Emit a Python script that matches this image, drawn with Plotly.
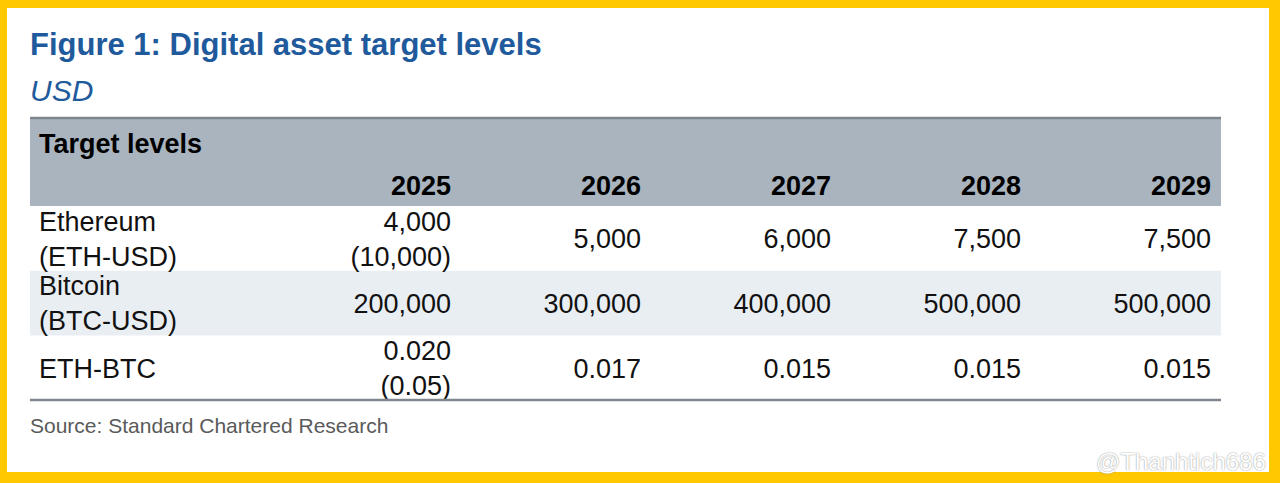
import plotly.graph_objects as go

# table content
years = ["2025", "2026", "2027", "2028", "2029"]
assets = ["Ethereum<br>(ETH-USD)", "Bitcoin<br>(BTC-USD)", "ETH-BTC"]
eth_usd = [4000, 5000, 6000, 7500, 7500]
eth_usd_alt = [10000, None, None, None, None]
btc_usd = [200000, 300000, 400000, 500000, 500000]
btc_usd_alt = [None, None, None, None, None]
eth_btc = [0.020, 0.017, 0.015, 0.015, 0.015]
eth_btc_alt = [0.05, None, None, None, None]

# layout constants (pixels inside the white card)
W, H = 1262, 464
TABLE_X0 = 23
LABEL_W = 241
COL_W = 190
PAD_R = 10
PAD_L = 9
TABLE_TOP = 110
HEADER_H = 88
ROW_H = 64.7
TEXT_DY = 3
NOTE_X = TABLE_X0 - 2

BLUE = "#1f5a9c"
YELLOW = "#ffc800"
HEADER_BG = "#a9b4be"
STRIPE_BG = "#e9eef3"
RULE = "#7f868e"
FONT = "Liberation Sans, Arial, sans-serif"
BODY_SIZE = 27


def fmt(v, alt, kind):
    if kind == "usd":
        s = f"{v:,.0f}"
        if alt is not None:
            s += f"<br>({alt:,.0f})"
    else:
        s = f"{v:.3f}"
        if alt is not None:
            s += f"<br>({alt:.2f})"
    return s


rows = [
    [fmt(v, a, "usd") for v, a in zip(eth_usd, eth_usd_alt)],
    [fmt(v, a, "usd") for v, a in zip(btc_usd, btc_usd_alt)],
    [fmt(v, a, "ratio") for v, a in zip(eth_btc, eth_btc_alt)],
]

col_right = [TABLE_X0 + LABEL_W + COL_W * (i + 1) - PAD_R for i in range(len(years))]
table_x1 = TABLE_X0 + LABEL_W + COL_W * len(years)
body_top = TABLE_TOP + HEADER_H
row_center = [body_top + ROW_H * (i + 0.5) for i in range(len(assets))]
table_bottom = body_top + ROW_H * len(assets)

fig = go.Figure()

# header years
fig.add_trace(go.Scatter(
    x=col_right, y=[TABLE_TOP + 67 + TEXT_DY] * len(years),
    text=[f"<b>{y}</b>" for y in years],
    mode="text", textposition="middle left",
    textfont=dict(family=FONT, size=BODY_SIZE, color="#000000"),
    hoverinfo="skip",
))

# header title
fig.add_trace(go.Scatter(
    x=[TABLE_X0 + PAD_L], y=[TABLE_TOP + 25 + TEXT_DY],
    text=["<b>Target levels</b>"],
    mode="text", textposition="middle right",
    textfont=dict(family=FONT, size=BODY_SIZE, color="#000000"),
    hoverinfo="skip",
))

# row labels
fig.add_trace(go.Scatter(
    x=[TABLE_X0 + PAD_L] * len(assets),
    y=[c + TEXT_DY for c in row_center],
    text=assets,
    mode="text", textposition="middle right",
    textfont=dict(family=FONT, size=BODY_SIZE, color="#111111"),
    hoverinfo="skip",
))

# values
for r, vals in enumerate(rows):
    fig.add_trace(go.Scatter(
        x=col_right, y=[row_center[r] + TEXT_DY] * len(vals),
        text=vals,
        mode="text", textposition="middle left",
        textfont=dict(family=FONT, size=BODY_SIZE, color="#111111"),
        hoverinfo="skip",
    ))

shapes = [
    dict(type="rect", xref="x", yref="y", x0=TABLE_X0, x1=table_x1,
         y0=TABLE_TOP, y1=body_top, fillcolor=HEADER_BG, line_width=0, layer="below"),
    dict(type="rect", xref="x", yref="y", x0=TABLE_X0, x1=table_x1,
         y0=body_top + ROW_H, y1=body_top + 2 * ROW_H, fillcolor=STRIPE_BG,
         line_width=0, layer="below"),
    dict(type="line", xref="x", yref="y", x0=TABLE_X0, x1=table_x1,
         y0=TABLE_TOP, y1=TABLE_TOP, line=dict(color=RULE, width=2.5)),
    dict(type="line", xref="x", yref="y", x0=TABLE_X0, x1=table_x1,
         y0=table_bottom, y1=table_bottom, line=dict(color=RULE, width=2.5)),
]

annotations = [
    dict(x=NOTE_X, y=36, xref="x", yref="y", xanchor="left", yanchor="middle",
         text="<b>Figure 1: Digital asset target levels</b>", showarrow=False,
         font=dict(family=FONT, size=31, color=BLUE)),
    dict(x=NOTE_X, y=82, xref="x", yref="y", xanchor="left", yanchor="middle",
         text="<i>USD</i>", showarrow=False,
         font=dict(family=FONT, size=30, color=BLUE)),
    dict(x=NOTE_X, y=417, xref="x", yref="y", xanchor="left", yanchor="middle",
         text="Source: Standard Chartered Research", showarrow=False,
         font=dict(family=FONT, size=21, color="#5a5a5a")),
    dict(x=W - 1, y=453, xref="x", yref="y", xanchor="right", yanchor="middle",
         text="@Thanhtich686", showarrow=False,
         font=dict(family=FONT, size=24, color="#ffffff",
                   shadow="0px 0px 1.5px #7a7a7a")),
]

fig.update_layout(
    width=1280, height=483,
    margin=dict(l=7, r=11, t=8, b=11),
    paper_bgcolor=YELLOW,
    plot_bgcolor="#ffffff",
    showlegend=False,
    shapes=shapes,
    annotations=annotations,
    xaxis=dict(range=[0, W], visible=False, fixedrange=True),
    yaxis=dict(range=[H, 0], visible=False, fixedrange=True),
)

fig.write_html("out.html", config={"displayModeBar": False},
               post_script="document.body.style.margin='0';")
